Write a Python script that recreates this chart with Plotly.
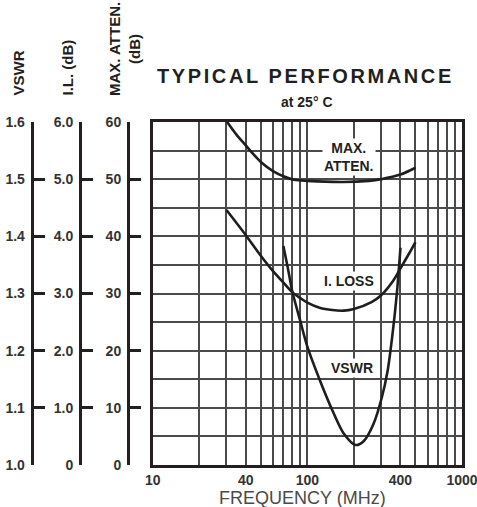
import math
import plotly.graph_objects as go

# ---------------- data ----------------
freq_ticks = [10, 20, 30, 40, 50, 60, 70, 80, 90, 100,
              200, 300, 400, 500, 600, 700, 800, 900, 1000]
freq_labels = ["10", "", "", "40", "", "", "", "", "", "100",
               "", "", "400", "", "", "", "", "", "1000"]

vswr_ticks = [1.0, 1.1, 1.2, 1.3, 1.4, 1.5, 1.6]
vswr_labels = ["1.0", "1.1", "1.2", "1.3", "1.4", "1.5", "1.6"]
il_ticks = [0, 1, 2, 3, 4, 5, 6]
il_labels = ["0", "1.0", "2.0", "3.0", "4.0", "5.0", "6.0"]
atten_ticks = [0, 10, 20, 30, 40, 50, 60]
atten_labels = ["0", "10", "20", "30", "40", "50", "60"]

atten_freq = [30.3, 35, 40, 45, 50, 60, 70, 82, 100, 170, 250, 300, 400, 500]
atten_db = [60.0, 57.7, 55.9, 54.3, 53.0, 51.4, 50.5, 49.9, 49.7, 49.5, 49.7, 50.0, 50.8, 52.0]

il_freq = [30, 40, 50, 60, 70, 80, 90, 100, 120, 145, 172, 200, 260, 300, 358, 400, 455, 500]
il_db = [4.46, 4.02, 3.66, 3.39, 3.19, 3.02, 2.92, 2.84, 2.75, 2.71, 2.70, 2.73, 2.85, 2.97, 3.22, 3.44, 3.70, 3.90]

vswr_freq = [70, 75, 80, 90, 100, 121, 146, 171, 205, 232, 268, 303, 330, 354, 379, 400]
vswr = [1.383, 1.343, 1.303, 1.252, 1.207, 1.147, 1.094, 1.056, 1.035, 1.042, 1.072, 1.118, 1.164, 1.225, 1.300, 1.380]

curve_label_text = ["MAX.<br>ATTEN.", "I. LOSS", "VSWR"]
curve_label_freq = [186, 186, 195]
curve_label_level = [53.9, 32.1, 17.0]   # on the 0-60 grid scale

# ---------------- layout helpers ----------------
W, H = 477, 507
L, R, T, B = 31, 15, 122, 42
PW, PH = W - L - R, H - T - B


def px(x):
    return (x - L) / PW


def py(y):
    return (H - B - y) / PH


FONT = "Liberation Sans, Arial, sans-serif"
INK = "#231f20"
GRID = "#4a4a4a"
LINE = dict(color="#1e1e1e", width=2.6)

fig = go.Figure()
fig.add_trace(go.Scatter(x=atten_freq, y=atten_db, mode="lines", yaxis="y4",
                         line=dict(shape="spline", smoothing=0.8, **LINE),
                         hoverinfo="skip", showlegend=False))
fig.add_trace(go.Scatter(x=il_freq, y=il_db, mode="lines", yaxis="y3",
                         line=dict(shape="spline", smoothing=0.8, **LINE),
                         hoverinfo="skip", showlegend=False))
fig.add_trace(go.Scatter(x=vswr_freq, y=vswr, mode="lines", yaxis="y2",
                         line=dict(shape="spline", smoothing=0.8, **LINE),
                         hoverinfo="skip", showlegend=False))

tickfont = dict(family=FONT, size=14, color="#333333", weight="bold")


def side_axis(rng, vals, labels, xpos):
    return dict(range=rng, tickmode="array", tickvals=vals, ticktext=labels,
                anchor="free", overlaying="y", side="left", position=xpos,
                showline=True, linewidth=3, linecolor=INK, ticks="inside",
                ticklen=11, tickwidth=3, tickcolor=INK, showgrid=False,
                zeroline=False, tickfont=tickfont, ticklabelstandoff=3,
                automargin=False, fixedrange=True)


fig.update_layout(
    width=W, height=H,
    margin=dict(l=L, r=R, t=T, b=B, pad=0, autoexpand=False),
    paper_bgcolor="white", plot_bgcolor="white",
    xaxis=dict(type="log", range=[1, 3], domain=[px(152.7), 1],
               tickmode="array", tickvals=freq_ticks, ticktext=freq_labels,
               showgrid=True, gridcolor=GRID, gridwidth=2,
               showline=True, linewidth=3, linecolor=INK, mirror=True,
               ticks="", tickfont=tickfont, ticklabelstandoff=0,
               ticklabeloverflow="allow", automargin=False,
               zeroline=False, fixedrange=True),
    yaxis=dict(range=[0, 60], dtick=5, showgrid=True, gridcolor=GRID,
               gridwidth=2, showline=True, linewidth=3, linecolor=INK,
               mirror=True, ticks="", showticklabels=False, zeroline=False,
               automargin=False, fixedrange=True),
    yaxis2=side_axis([1.0, 1.6], vswr_ticks, vswr_labels, px(31.7)),
    yaxis3=side_axis([0, 6], il_ticks, il_labels, px(80)),
    yaxis4=side_axis([0, 60], atten_ticks, atten_labels, px(128)),
    showlegend=False,
)

ann = []
# rotated axis titles
title_font = dict(family=FONT, size=15, color=INK, weight="bold")
ann.append(dict(text="VSWR", x=px(18), y=py(98), textangle=-90,
                xanchor="center", yanchor="bottom", font=title_font))
ann.append(dict(text="I.L. (dB)", x=px(66.5), y=py(98), textangle=-90,
                xanchor="center", yanchor="bottom", font=title_font))
ann.append(dict(text="MAX. ATTEN.<br>(dB)", x=px(124), y=py(98), textangle=-90,
                xanchor="center", yanchor="bottom", align="center",
                font=title_font))
# chart title
ann.append(dict(text="<span style='letter-spacing:2.6px'>TYPICAL PERFORMANCE</span>",
                x=px(305), y=py(76), xanchor="center", yanchor="middle",
                font=dict(family=FONT, size=20, color=INK, weight="bold")))
ann.append(dict(text="at 25\u00b0 C", x=px(307), y=py(102), xanchor="center",
                yanchor="middle",
                font=dict(family=FONT, size=14, color=INK, weight="bold")))
# x-axis title
ann.append(dict(text="FREQUENCY (MHz)", x=px(302), y=py(498), xanchor="center",
                yanchor="middle",
                font=dict(family=FONT, size=18, color="#4a4a4a")))
for a in ann:
    a.update(xref="paper", yref="paper", showarrow=False)

# curve labels (data coordinates; log axis annotations use log10 units)
lab_font = dict(family=FONT, size=14, color=INK, weight="bold")
for txt, fx, fy in zip(curve_label_text, curve_label_freq, curve_label_level):
    ann.append(dict(text=txt, x=math.log10(fx), y=fy, xref="x", yref="y",
                    showarrow=False, xanchor="center", yanchor="middle",
                    bgcolor="white", borderpad=1, font=lab_font, align="center"))

fig.update_layout(annotations=ann)
fig.write_html("out.html",
               config={"displayModeBar": False},
               post_script="document.body.style.margin='0';"
                           "document.body.style.overflow='hidden';")
